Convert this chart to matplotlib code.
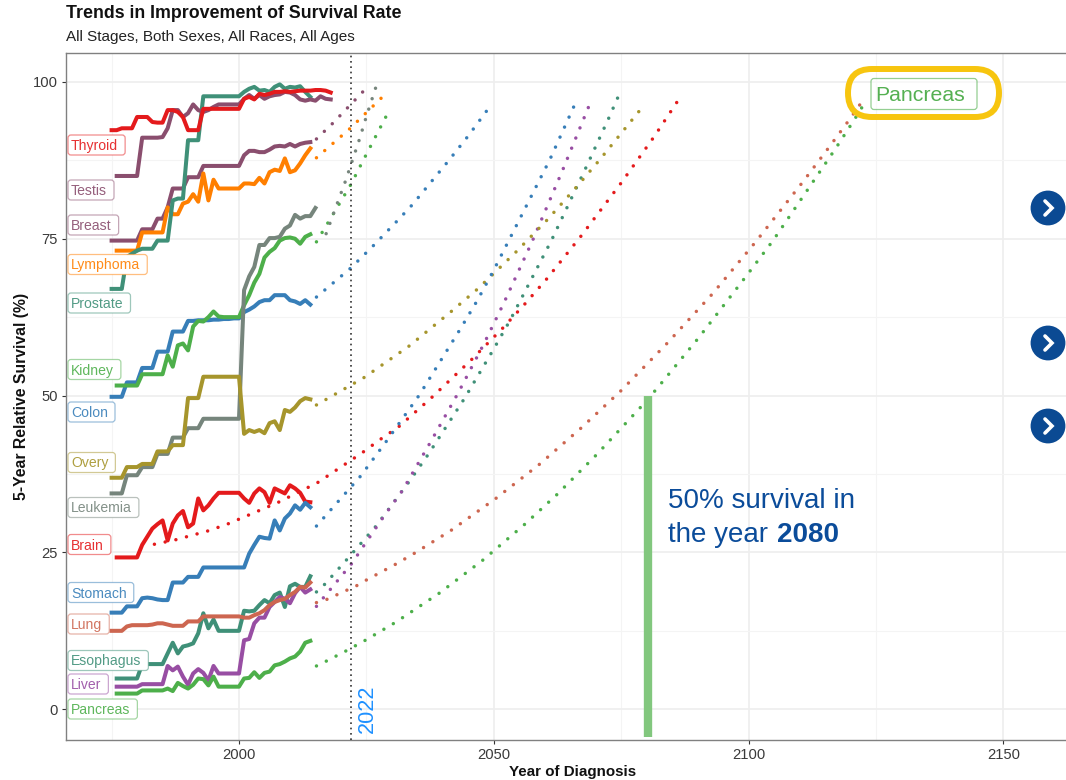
import numpy as np
import matplotlib
matplotlib.use("Agg")
import matplotlib.pyplot as plt
from matplotlib.patches import Circle, FancyBboxPatch

plt.rcParams["font.family"] = ["Liberation Sans", "DejaVu Sans"]

# observed survival, one value per year
brain_start = 1976
brain = [24.2, 24.2, 24.2, 24.2,
         24.2, 26.2, 27.5, 28.8, 29.5,
         30.1, 26.9, 29.6, 30.9, 31.6,
         29, 29.6, 33.6, 31.7, 32.5,
         33.6, 34.5, 34.5, 34.5, 34.5,
         34.5, 33.6, 32.9, 34.4, 35.2,
         34.6, 32.9, 35.2, 34.8, 34.4,
         35.7, 35.2, 34.5, 33.1, 33]
breast_start = 1975
breast = [74.7, 74.7, 74.7, 74.7, 74.7,
          74.7, 76.5, 76.5, 76.5, 78.2,
          78.2, 80, 83, 83, 83,
          84.8, 84.8, 84.8, 86.6, 86.6,
          86.6, 86.6, 86.6, 86.6, 86.6,
          86.6, 88.3, 89, 89, 88.8,
          88.8, 89.2, 89.7, 89.8, 89.7,
          90.1, 89.7, 90.1, 90.3, 90.4]
colon_start = 1975
colon = [49.8, 49.8, 49.8, 52.1, 52.1,
         52.1, 54.4, 54.4, 54.4, 57,
         57, 57, 60.2, 60.2, 60.2,
         61.9, 61.9, 62, 62, 62,
         62.1, 62.1, 62.2, 62.2, 62.3,
         62.3, 63.3, 63.7, 64.2, 64.9,
         65.2, 65.2, 66, 66, 66,
         65.2, 65, 64.6, 65.2, 64.5]
esophagus_start = 1976
esophagus = [4.9, 4.9, 4.9, 4.9,
             4.9, 7.2, 7.2, 7.2, 7.2,
             7.2, 8.9, 10.6, 8.9, 10,
             10.2, 10.5, 12.1, 15.3, 12.9,
             14.3, 12.5, 12.5, 12.5, 12.5,
             12.5, 15.7, 15.6, 15.7, 16.6,
             17.4, 16.9, 18.2, 18.6, 16.3,
             19.6, 20, 19.5, 19.5, 21.2]
kidney_start = 1976
kidney = [51.6, 51.6, 51.6, 51.6,
          51.6, 53.4, 53.4, 53.4, 53.4,
          53.4, 56.4, 54.6, 58, 58.3,
          57.2, 61, 61.9, 61.8, 62.5,
          63.4, 62.6, 62.5, 62.5, 62.5,
          62.5, 64.4, 66, 68, 69.4,
          72, 72.9, 73.5, 74.7, 75.1,
          75.2, 75, 74.2, 75.3, 75.7]
leukemia_start = 1975
leukemia = [34.4, 34.4, 34.4, 37.3, 37.3,
            37.3, 38.6, 38.6, 38.6, 40.7,
            40.7, 40.7, 43.3, 43.3, 43.3,
            44.8, 44.8, 44.8, 46.3, 46.3,
            46.3, 46.3, 46.3, 46.3, 46.3,
            46.3, 66.8, 69, 70.5, 74,
            74, 75.1, 75.1, 75.3, 76.6,
            77.1, 78.8, 78.2, 78.6, 78.6,
            79.9]
liver_start = 1976
liver = [3.6, 3.6, 3.6, 3.6,
         3.6, 4, 4, 4, 4,
         4, 6.9, 6.2, 6.8, 5.2,
         3.9, 5.7, 6.4, 5.8, 4.6,
         6.9, 5.7, 5.7, 5.7, 5.7,
         5.7, 11, 11.2, 13.7, 14.6,
         14.6, 16.3, 17.1, 17.9, 17.6,
         16.9, 18.5, 19.5, 18.6, 19.1]
lung_start = 1975
lung = [12.5, 12.5, 12.5, 13.2, 13.4,
        13.4, 13.4, 13.4, 13.5, 13.7,
        13.7, 13.5, 13.3, 13.3, 13.3,
        14, 14, 14, 14.8, 14.8,
        14.8, 14.8, 14.8, 14.8, 14.8,
        14.8, 14.6, 14.6, 15, 15.3,
        15.8, 16.6, 17.1, 17.4, 17.6,
        18.2, 18.7, 19.5, 19.4, 20.2]
lymphoma_start = 1976
lymphoma = [73.1, 73.1, 73.1, 73.1,
            73.1, 76, 76, 76, 76,
            76, 80, 78.9, 78.9, 80.6,
            80.9, 82.1, 80.9, 85.4, 81.1,
            84.4, 83, 83, 83, 83,
            83, 83.8, 83.8, 83.7, 84.7,
            83.8, 85.6, 86, 85.8, 87.8,
            85.6, 85.9, 87, 88.3, 89.4]
ovary_start = 1975
ovary = [36.9, 36.9, 36.9, 38.6, 38.6,
         38.6, 39.1, 39.1, 39.1, 41.1,
         41.1, 41.1, 42.1, 42.1, 42.1,
         49.6, 49.6, 49.6, 53, 53,
         53, 53, 53, 53, 53,
         53, 43.9, 44.5, 44.2, 44.5,
         44, 45.6, 45.9, 44.5, 47.7,
         47.4, 48.1, 49.1, 49.6, 49.4]
pancreas_start = 1976
pancreas = [2.5, 2.5, 2.5, 2.5,
            2.5, 3, 3, 3, 3,
            3, 3.3, 2.9, 4.2, 3.7,
            3.3, 3.9, 4.9, 4.8, 3.8,
            5.2, 3.6, 3.6, 3.6, 3.6,
            3.6, 4.9, 5, 5.9, 5,
            5.8, 6, 7, 7.2, 7.6,
            8.1, 8.4, 9.2, 10.6, 10.9]
prostate_start = 1975
prostate = [67, 67, 67, 72.1, 72.6,
            73.1, 73.4, 73.4, 73.4, 74.7,
            74.7, 74.7, 81.1, 81.4, 81.4,
            90.7, 90.7, 90.7, 97.7, 97.7,
            97.7, 97.7, 97.7, 97.7, 97.7,
            97.7, 98.4, 98.9, 99.2, 98.6,
            98.7, 98.4, 99.2, 99.6, 98.9,
            99.2, 99.1, 99.3, 98.4, 97.6]
stomach_start = 1975
stomach = [15.4, 15.4, 15.4, 16.4, 16.4,
           16.4, 17.7, 17.8, 17.7, 17.5,
           17.4, 17.4, 20.2, 20.2, 20.2,
           21.1, 21.1, 21.1, 22.6, 22.6,
           22.6, 22.6, 22.6, 22.6, 22.6,
           22.6, 22.6, 24.8, 26.2, 27.5,
           27.3, 27.2, 30.1, 28.5, 30.4,
           31.2, 32.5, 31.8, 32.9, 32.2]
testis_start = 1976
testis = [85, 85, 85, 85,
          85, 91.1, 91.1, 91.1, 91.1,
          91.2, 92.6, 95.5, 95.5, 94.4,
          95, 96.4, 95.5, 95.2, 95.5,
          96, 96.4, 96.4, 96.4, 96.4,
          96.4, 97.3, 97.9, 97.3, 97.9,
          97.3, 97.7, 97.9, 98, 98.4,
          98.3, 97.9, 97.2, 97, 97.2,
          97, 97.7, 97.3, 97.2]
thyroid_start = 1975
thyroid = [92.3, 92.3, 92.6, 92.6, 92.6,
           94.4, 94.4, 94.4, 93.6, 93.5,
           93.5, 95.5, 95.5, 95.2, 94.4,
           92.3, 92.3, 92.3, 95.7, 95.7,
           95.7, 95.7, 95.7, 95.7, 95.7,
           95.7, 97.3, 97.6, 97.2, 98.1,
           97.9, 98.1, 98.4, 98.4, 98.5,
           98.4, 98.5, 98.6, 98.6, 98.6,
           98.7, 98.7, 98.6, 98.3]

# projected survival
brain_fc_x = [1983.4, 1987.5, 1993.8, 1997.7, 2007.5, 2013.4, 2015.2, 2024.2, 2027.7, 2031.3, 2037.7,
              2045.6, 2051.7, 2056.1, 2060.4, 2067.2, 2075.1, 2081.5, 2086.3]
brain_fc_y = [26.3, 27, 28.4, 29.5, 32.9, 35.3, 36, 40.9, 43, 45, 49.6,
              55.7, 60.7, 64.6, 68.6, 75.5, 84, 91.3, 97.2]
colon_fc_x = [2015.2, 2021.9, 2026.5, 2031, 2034, 2041, 2045, 2048.9]
colon_fc_y = [65.7, 70.3, 74, 77.8, 80.4, 87.3, 91.4, 95.7]
esophagus_fc_x = [2015.2, 2016.8, 2021.2, 2024, 2026.9, 2033.5, 2037.2, 2044.3, 2049.9, 2053.2, 2061.3,
                  2067.9, 2072.5, 2075.1]
esophagus_fc_y = [18.7, 19.9, 23.9, 26.5, 29.2, 36.4, 40.7, 49.6, 57.3, 62, 74.7,
                  86, 94.1, 98.9]
kidney_fc_x = [2015.2, 2017.5, 2022, 2024, 2029]
kidney_fc_y = [74.5, 77.6, 83.7, 86.9, 94.7]
leukemia_fc_x = [2017.1, 2020.9, 2023.7, 2025, 2027]
leukemia_fc_y = [75.8, 84.2, 91, 94.5, 99.5]
liver_fc_x = [2015.2, 2016.6, 2022.1, 2024.6, 2028.3, 2032.1, 2037.6, 2043, 2048.1, 2052, 2057.5,
              2063.6, 2068.6]
liver_fc_y = [16.4, 17.8, 23.2, 26.2, 30.6, 34.9, 42.6, 50.4, 58.3, 64.8, 74.5,
              86.1, 96]
lung_fc_x = [2015.2, 2017.2, 2023.1, 2025, 2030.7, 2034.3, 2041.6, 2050.4, 2058.9, 2067.1, 2075,
             2084.1, 2092.9, 2101.3, 2110.7, 2116, 2119.9, 2122.4]
lung_fc_y = [17, 17.5, 19.7, 20.6, 23.1, 24.8, 28.5, 33.6, 39, 44.8, 50.8,
             58.4, 66.2, 74.4, 84.1, 89.8, 94.1, 97]
lymphoma_fc_x = [2015.2, 2021.7, 2027.9]
lymphoma_fc_y = [87.9, 92.5, 97.4]
ovary_fc_x = [2015.2, 2024.6, 2033.4, 2041.8, 2046.7, 2049.8, 2054.5, 2060.6, 2066.4, 2070.6, 2074.7, 2078.9]
ovary_fc_y = [48.5, 52.9, 57.9, 63.5, 66.9, 69.3, 73, 78.1, 83.4, 87.4, 91.5, 95.7]
pancreas_fc_x = [2015.2, 2017.2, 2021, 2024.8, 2030.4, 2032.1, 2039.3, 2047.9, 2056.1, 2062.5, 2070.2,
                 2079, 2080.5, 2081.9, 2090.2, 2099.6, 2104.8, 2111, 2117.1, 2120.7, 2123]
pancreas_fc_y = [6.9, 7.7, 9.3, 11, 13.7, 14.6, 18.5, 23.8, 29.5, 34.3, 40.6,
                 48.3, 49.7, 51, 59.2, 69.1, 74.7, 82.1, 89.4, 93.9, 96.9]
stomach_fc_x = [2015.2, 2023.9, 2029, 2035.4, 2043.5, 2046.8, 2050, 2058, 2061, 2066.4]
stomach_fc_y = [29.2, 37.2, 42.8, 50.1, 60.7, 65.2, 70, 82.8, 87.6, 97.3]
testis_fc_x = [2015.2, 2018.4, 2024.4]
testis_fc_y = [90.9, 93.4, 98.5]

# name, colour, start year, observed, forecast x, forecast y
series = [
    ("Brain", "#E41A1C", brain_start, brain, brain_fc_x, brain_fc_y),
    ("Breast", "#8A4E6E", breast_start, breast, None, None),
    ("Colon", "#377EB8", colon_start, colon, colon_fc_x, colon_fc_y),
    ("Esophagus", "#3F9078", esophagus_start, esophagus, esophagus_fc_x, esophagus_fc_y),
    ("Kidney", "#4DAF4A", kidney_start, kidney, kidney_fc_x, kidney_fc_y),
    ("Leukemia", "#76857C", leukemia_start, leukemia, leukemia_fc_x, leukemia_fc_y),
    ("Liver", "#984EA3", liver_start, liver, liver_fc_x, liver_fc_y),
    ("Lung", "#CD6650", lung_start, lung, lung_fc_x, lung_fc_y),
    ("Lymphoma", "#FF7F00", lymphoma_start, lymphoma, lymphoma_fc_x, lymphoma_fc_y),
    ("Ovary", "#A6952C", ovary_start, ovary, ovary_fc_x, ovary_fc_y),
    ("Pancreas", "#4DAF4A", pancreas_start, pancreas, pancreas_fc_x, pancreas_fc_y),
    ("Prostate", "#3F9078", prostate_start, prostate, None, None),
    ("Stomach", "#377EB8", stomach_start, stomach, stomach_fc_x, stomach_fc_y),
    ("Testis", "#8A4E6E", testis_start, testis, testis_fc_x, testis_fc_y),
    ("Thyroid", "#E41A1C", thyroid_start, thyroid, None, None),
]

# left labels: text, colour, box centre in pixels
labels = [
    ("Thyroid", "#E41A1C", 145), ("Testis", "#8A4E6E", 190), ("Breast", "#8A4E6E", 225),
    ("Lymphoma", "#FF7F00", 264.5), ("Prostate", "#3F9078", 303), ("Kidney", "#4DAF4A", 369.5),
    ("Colon", "#377EB8", 412), ("Overy", "#A6952C", 462.5), ("Leukemia", "#76857C", 507.5),
    ("Brain", "#E41A1C", 544.5), ("Stomach", "#377EB8", 592.5), ("Lung", "#CD6650", 624),
    ("Esophagus", "#3F9078", 660.5), ("Liver", "#984EA3", 684), ("Pancreas", "#4DAF4A", 709),
]

button_y = [208, 343, 426]
x_ticks = [2000, 2050, 2100, 2150]
y_ticks = [0, 25, 50, 75, 100]

W, H = 1066, 780
fig = plt.figure(figsize=(W / 100, H / 100), dpi=100)
ax = fig.add_axes([66 / W, (H - 740) / H, 1000 / W, 687 / H])
ax.set_xlim(1966.05, 2162.3)
ax.set_ylim(-4.9, 104.6)

ax.set_xticks(x_ticks)
ax.set_yticks(y_ticks)
ax.set_xticks([1975, 2025, 2075, 2125], minor=True)
ax.set_yticks([12.5, 37.5, 62.5, 87.5], minor=True)
ax.grid(which="major", color="#EEEEEE", lw=1.2)
ax.grid(which="minor", color="#F4F4F4", lw=0.8)
ax.set_axisbelow(True)
ax.tick_params(which="major", length=3, width=0.8, color="#333333", labelsize=10.6,
               labelcolor="#3A3A3A", pad=3)
ax.tick_params(which="minor", length=0)
for side in ["left", "top", "bottom"]:
    ax.spines[side].set_color("#808080")
    ax.spines[side].set_linewidth(1)
ax.spines["right"].set_visible(False)

for name, color, start, values, fc_x, fc_y in series:
    years = np.arange(start, start + len(values))
    ax.plot(years, values, color=color, lw=2.9, solid_joinstyle="round", zorder=3)
    if fc_x is not None:
        ax.plot(fc_x, fc_y, color=color, lw=2.5, linestyle=(0, (0.01, 3.15)),
                dash_capstyle="round", zorder=2.5)

# 2022 marker and the 50% bar
ax.axvline(2022, color="#333333", lw=1.2, linestyle=(0, (1, 2.2)), zorder=4)
ax.plot([2080.3, 2080.3], [-4.4, 50], color="#82C77E", lw=6, solid_capstyle="butt", zorder=4)

# overlay in image pixels for labels and annotations
over = fig.add_axes([0, 0, 1, 1], facecolor="none")
over.set_xlim(0, W)
over.set_ylim(H, 0)
over.axis("off")

over.text(66, 13, "Trends in Improvement of Survival Rate", fontsize=12.75, fontweight="bold",
          color="#111111", va="center")
over.text(66, 37, "All Stages, Both Sexes, All Races, All Ages", fontsize=10.97,
          color="#222222", va="center")
over.text(573, 772, "Year of Diagnosis", fontsize=10.9, fontweight="bold", color="#111111",
          ha="center", va="center")
over.text(22, 396.3, "5-Year Relative Survival (%)", fontsize=11.35, fontweight="bold", color="#111111",
          rotation=90, ha="center", va="center")

renderer = fig.canvas.get_renderer()
for text, color, yc in labels:
    t = over.text(71, yc + 5, text, fontsize=10.1, color=color, alpha=0.9, va="baseline", zorder=6)
    width = t.get_window_extent(renderer).width
    over.add_patch(FancyBboxPatch((68, yc - 10), width + 10, 20, boxstyle="round,pad=0,rounding_size=3",
                                  facecolor="white", edgecolor="none", zorder=4.9))
    over.add_patch(FancyBboxPatch((68, yc - 10), width + 10, 20, boxstyle="round,pad=0,rounding_size=3",
                                  facecolor="white", edgecolor=color, alpha=0.5, lw=0.9, zorder=5))

over.text(367, 733, "2022", fontsize=15.6, color="#1E90FF", rotation=90, ha="center", va="bottom")

over.text(668, 508, "50% survival in", fontsize=20, color="#0B4C9A", va="baseline")
t = over.text(668, 542, "the year ", fontsize=20, color="#0B4C9A", va="baseline")
bold_x = 668 + t.get_window_extent(renderer).width + 1
over.text(bold_x, 542, "2080", fontsize=20, fontweight="bold", color="#0B4C9A", va="baseline")

# highlighted end label
over.add_patch(FancyBboxPatch((848, 69), 151, 48, boxstyle="round,pad=0,rounding_size=24",
                              facecolor="none", edgecolor="#F7C50F", lw=4.3, zorder=5))
over.add_patch(FancyBboxPatch((871, 78.5), 106, 31, boxstyle="round,pad=0,rounding_size=3",
                              facecolor="white", edgecolor="#4DAF4A", alpha=0.6, lw=0.9, zorder=5))
over.text(875, 101, "Pancreas", fontsize=15.3, color="#55B052", va="baseline", zorder=6)

# round arrow buttons on the right edge
for yc in button_y:
    over.add_patch(Circle((1048, yc), 17.4, facecolor="#0B4A93", edgecolor="none", clip_on=True, zorder=6))
    over.plot([1045, 1052, 1045], [yc - 7, yc, yc + 7], color="white", lw=2.6,
              solid_capstyle="round", solid_joinstyle="miter", zorder=7)

fig.savefig("out.png", dpi=100)
